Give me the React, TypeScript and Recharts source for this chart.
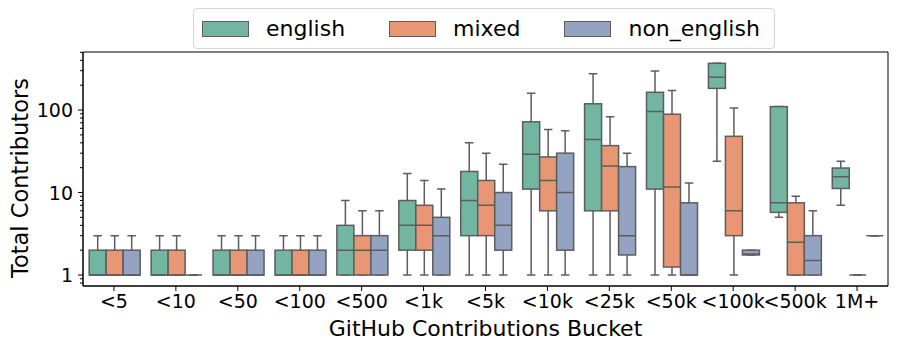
import React from 'react';
import { ComposedChart, Bar, XAxis, YAxis, ReferenceArea } from 'recharts';

const categories = ['<5', '<10', '<50', '<100', '<500', '<1k', '<5k', '<10k', '<25k', '<50k', '<100k', '<500k', '1M+'];

const seriesNames = ['english', 'mixed', 'non_english'];
const seriesColors = ['#72b6a1', '#e99675', '#95a3c3'];
const edgeColor = '#5d5d5d';

// english
const englishLow = [1, 1, 1, 1, 1, 1, 1, 1, 1, 1, 24, 5, 7];
const englishQ1 = [1, 1, 1, 1, 1, 2, 3, 11, 6, 11, 183, 5.75, 11.2];
const englishMedian = [1, 1, 1, 1, 2, 4, 8, 29, 44, 96, 249, 7.5, 15.5];
const englishQ3 = [2, 2, 2, 2, 4, 8, 18, 72, 119, 164, 368, 110, 19.8];
const englishHigh = [3, 3, 3, 3, 8, 17, 40, 160, 275, 298, 368, 110, 24];

// mixed
const mixedLow = [1, 1, 1, 1, 1, 1, 1, 1, 1, 1, 1, 1, 1];
const mixedQ1 = [1, 1, 1, 1, 1, 2, 3, 6, 6, 1.25, 3, 1, 1];
const mixedMedian = [1, 1, 1, 1, 2, 4, 7, 14, 21, 11.7, 6, 2.5, 1];
const mixedQ3 = [2, 2, 2, 2, 3, 7, 14, 27, 37, 89, 48, 7.5, 1];
const mixedHigh = [3, 3, 3, 3, 6, 14, 30, 58, 83, 173, 106, 9, 1];

// non_english
const nonEnglishLow = [1, 1, 1, 1, 1, 1, 1, 1, 1, 1, 1.75, 1, 3];
const nonEnglishQ1 = [1, 1, 1, 1, 1, 1, 2, 2, 1.75, 1, 1.75, 1, 3];
const nonEnglishMedian = [1, 1, 1, 1, 2, 3, 4, 10, 3, 1, 1.8, 1.5, 3];
const nonEnglishQ3 = [2, 1, 2, 2, 3, 5, 10, 30, 20.6, 7.5, 2, 3, 3];
const nonEnglishHigh = [3, 1, 3, 3, 6, 11, 22, 56, 30, 13, 2, 6, 3];

const majorTicks = [1, 10, 100];
const minorTicks = [0.8, 0.9, 2, 3, 4, 5, 6, 7, 8, 9, 20, 30, 40, 50, 60, 70, 80, 90, 200, 300, 400, 500];
const yDomain = [0.736, 505];

const seriesStats = [
  { lo: englishLow, q1: englishQ1, med: englishMedian, q3: englishQ3, hi: englishHigh },
  { lo: mixedLow, q1: mixedQ1, med: mixedMedian, q3: mixedQ3, hi: mixedHigh },
  { lo: nonEnglishLow, q1: nonEnglishQ1, med: nonEnglishMedian, q3: nonEnglishQ3, hi: nonEnglishHigh },
];

const data = categories.map((c, i) => {
  const row: any = { category: c };
  seriesStats.forEach((s, k) => {
    row[`w${k}`] = [s.lo[i], s.hi[i]];
    row[`b${k}`] = [s.q1[i], s.q3[i]];
    row[`m${k}`] = [s.med[i], s.med[i]];
  });
  return row;
});

const FONT = 'DejaVu Sans';

const norm = (p: any) => {
  const y = Number(p.y);
  const h = Number(p.height) || 0;
  return { x: Number(p.x), w: Number(p.width), top: Math.min(y, y + h), bottom: Math.max(y, y + h) };
};

const WhiskerShape = (p: any) => {
  const { x, w, top, bottom } = norm(p);
  if (!isFinite(x) || !isFinite(top)) return null;
  const cx = x + w / 2;
  return (
    <g stroke={edgeColor} strokeWidth={1.5} fill="none">
      <line x1={cx} x2={cx} y1={top} y2={bottom} />
      <line x1={x + w / 4} x2={x + (3 * w) / 4} y1={top} y2={top} />
      <line x1={x + w / 4} x2={x + (3 * w) / 4} y1={bottom} y2={bottom} />
    </g>
  );
};

const makeBoxShape = (color: string) => (p: any) => {
  const { x, w, top, bottom } = norm(p);
  if (!isFinite(x) || !isFinite(top)) return null;
  return <rect x={x} y={top} width={w} height={bottom - top} fill={color} stroke={edgeColor} strokeWidth={1.5} />;
};

const MedianShape = (p: any) => {
  const { x, w, top } = norm(p);
  if (!isFinite(x) || !isFinite(top)) return null;
  return <line x1={x} x2={x + w} y1={top} y2={top} stroke={edgeColor} strokeWidth={1.5} />;
};

const YTick = (p: any) => {
  const { x, y, payload } = p;
  const v = payload.value;
  const major = majorTicks.includes(v);
  const len = major ? 5 : 3;
  return (
    <g>
      <line x1={x - len} x2={x} y1={y} y2={y} stroke="#000" strokeWidth={1} />
      {major && (
        <text x={x - 10} y={y} textAnchor="end" dominantBaseline="central" fontSize={19} fontFamily={FONT} fill="#000">
          {v}
        </text>
      )}
    </g>
  );
};

const Legend = () => (
  <div
    style={{
      position: 'absolute',
      left: 193,
      top: 8,
      height: 41,
      boxSizing: 'border-box',
      border: '1px solid #d6d6d6',
      borderRadius: 4,
      background: 'rgba(255,255,255,0.85)',
      display: 'flex',
      alignItems: 'center',
      padding: '0 14px 0 8px',
      fontFamily: FONT,
      fontSize: 22,
      zIndex: 2,
    }}
  >
    {seriesNames.map((n, k) => (
      <div key={n} style={{ display: 'flex', alignItems: 'center', marginLeft: k === 0 ? 0 : 44 }}>
        <div
          style={{
            width: 47,
            height: 16,
            boxSizing: 'border-box',
            background: seriesColors[k],
            border: `1.5px solid ${edgeColor}`,
            marginRight: 17,
          }}
        />
        <span style={{ lineHeight: '22px' }}>{n}</span>
      </div>
    ))}
  </div>
);

export default function App() {
  return (
    <div style={{ position: 'absolute', left: 0, top: 0, width: 897, height: 350, background: '#fff' }}>
      <Legend />
      <ComposedChart
        width={897}
        height={350}
        data={data}
        margin={{ top: 52, right: 9, bottom: 0, left: 0 }}
        barCategoryGap="10%"
        barGap={0}
      >
        <XAxis
          xAxisId="b"
          dataKey="category"
          type="category"
          height={64}
          tickSize={5}
          tickMargin={4}
          stroke="#000"
          tick={{ fontSize: 19, fontFamily: FONT, fill: '#000' }}
          interval={0}
          label={(props: any) => {
            const vb = props.viewBox || {};
            return (
              <text x={vb.x + vb.width / 2} y={336} textAnchor="middle" fontSize={22} fontFamily={FONT} fill="#000">
                GitHub Contributions Bucket
              </text>
            );
          }}
        />
        <XAxis xAxisId="w" dataKey="category" type="category" hide />
        <XAxis xAxisId="m" dataKey="category" type="category" hide />
        <YAxis
          yAxisId="y"
          scale="log"
          type="number"
          domain={yDomain}
          allowDataOverflow
          ticks={[...majorTicks, ...minorTicks].sort((a, b) => a - b)}
          interval={0}
          width={83}
          tickSize={0}
          tickMargin={0}
          tickLine={false}
          stroke="#000"
          tick={<YTick />}
          label={() => (
            <text
              x={0}
              y={0}
              transform="translate(20,178) rotate(-90)"
              textAnchor="middle"
              dominantBaseline="central"
              fontSize={22.5}
              fontFamily={FONT}
              fill="#000"
            >
              Total Contributors
            </text>
          )}
        />
        {seriesNames.map((n, k) => (
          <Bar
            key={`w${k}`}
            xAxisId="w"
            yAxisId="y"
            dataKey={`w${k}`}
            name={n}
            isAnimationActive={false}
            shape={WhiskerShape}
          />
        ))}
        {seriesNames.map((n, k) => (
          <Bar
            key={`b${k}`}
            xAxisId="b"
            yAxisId="y"
            dataKey={`b${k}`}
            name={n}
            fill={seriesColors[k]}
            isAnimationActive={false}
            shape={makeBoxShape(seriesColors[k])}
          />
        ))}
        {seriesNames.map((n, k) => (
          <Bar
            key={`m${k}`}
            xAxisId="m"
            yAxisId="y"
            dataKey={`m${k}`}
            name={n}
            isAnimationActive={false}
            shape={MedianShape}
          />
        ))}
        <ReferenceArea
          xAxisId="b"
          yAxisId="y"
          y1={yDomain[0]}
          y2={yDomain[1]}
          fill="none"
          stroke="#000"
          strokeWidth={1}
          ifOverflow="visible"
        />
      </ComposedChart>
    </div>
  );
}
